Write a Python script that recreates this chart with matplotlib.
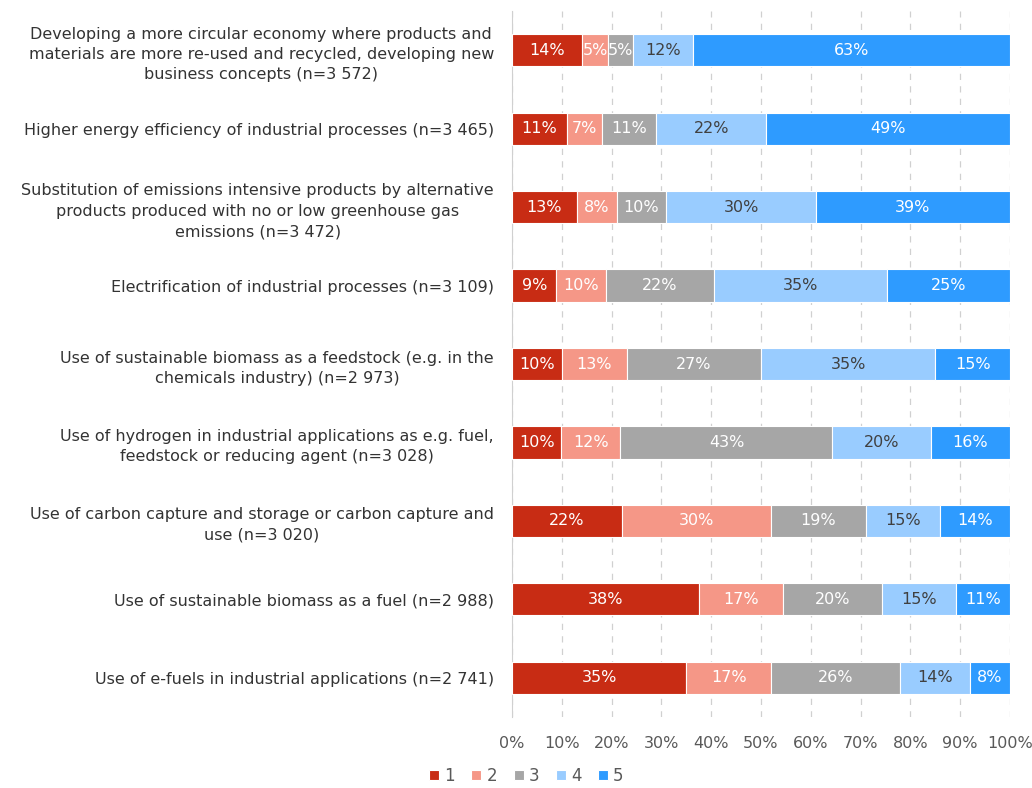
import numpy as np
import matplotlib
matplotlib.use("Agg")
import matplotlib.pyplot as plt
from matplotlib.ticker import PercentFormatter

categories = [
    "Developing a more circular economy where products and\nmaterials are more re-used and recycled, developing new\nbusiness concepts (n=3 572)",
    "Higher energy efficiency of industrial processes (n=3 465)",
    "Substitution of emissions intensive products by alternative\nproducts produced with no or low greenhouse gas\nemissions (n=3 472)",
    "Electrification of industrial processes (n=3 109)",
    "Use of sustainable biomass as a feedstock (e.g. in the\nchemicals industry) (n=2 973)",
    "Use of hydrogen in industrial applications as e.g. fuel,\nfeedstock or reducing agent (n=3 028)",
    "Use of carbon capture and storage or carbon capture and\nuse (n=3 020)",
    "Use of sustainable biomass as a fuel (n=2 988)",
    "Use of e-fuels in industrial applications (n=2 741)",
]
s1 = [14, 11, 13, 9, 10, 10, 22, 38, 35]
s2 = [5, 7, 8, 10, 13, 12, 30, 17, 17]
s3 = [5, 11, 10, 22, 27, 43, 19, 20, 26]
s4 = [12, 22, 30, 35, 35, 20, 15, 15, 14]
s5 = [63, 49, 39, 25, 15, 16, 14, 11, 8]
series_names = ["1", "2", "3", "4", "5"]

colors = ["#C82C14", "#F59787", "#A6A6A6", "#99CCFF", "#2E9BFF"]
text_colors = ["white", "white", "white", "#404040", "white"]

data = np.array([s1, s2, s3, s4, s5], dtype=float)
totals = data.sum(axis=0)
shares = data / totals * 100

fig = plt.figure(figsize=(10.32, 7.88), dpi=100)
ax = fig.add_axes([512 / 1032, 1 - 717 / 788, 498 / 1032, 706 / 788])

y = np.arange(len(categories))
left = np.zeros(len(categories))
for k in range(5):
    bars = ax.barh(y, shares[k], left=left, height=0.41, color=colors[k],
                   edgecolor="white", linewidth=0.8, label=series_names[k], zorder=3)
    for i, b in enumerate(bars):
        ax.text(left[i] + shares[k][i] / 2, y[i], f"{int(data[k][i])}%",
                ha="center", va="center", color=text_colors[k], fontsize=11.5, zorder=4)
    left += shares[k]

ax.set_xlim(0, 100)
ax.set_ylim(len(categories) - 0.5, -0.5)
ax.set_yticks(y)
ax.set_yticklabels(categories, fontsize=11.5, color="#333333", multialignment="center",
                   linespacing=1.45)
ax.set_xticks(np.arange(0, 101, 10))
ax.xaxis.set_major_formatter(PercentFormatter(decimals=0))
ax.tick_params(axis="x", labelsize=11.5, colors="#595959", length=0, pad=14)
ax.tick_params(axis="y", length=0, pad=13)
ax.grid(axis="x", color="#D0D0D0", linestyle=(0, (5, 5)), linewidth=0.9, zorder=0)
for side in ["top", "right", "bottom"]:
    ax.spines[side].set_visible(False)
ax.spines["left"].set_color("#D0D0D0")

fig.legend(loc="lower center", bbox_to_anchor=(0.51, 0.004), ncol=5, frameon=False,
           fontsize=12, handlelength=0.6, handleheight=0.6, handletextpad=0.3,
           columnspacing=1.0, labelcolor="#595959", borderaxespad=0.0, borderpad=0.0)

fig.savefig("out.png", dpi=100)
